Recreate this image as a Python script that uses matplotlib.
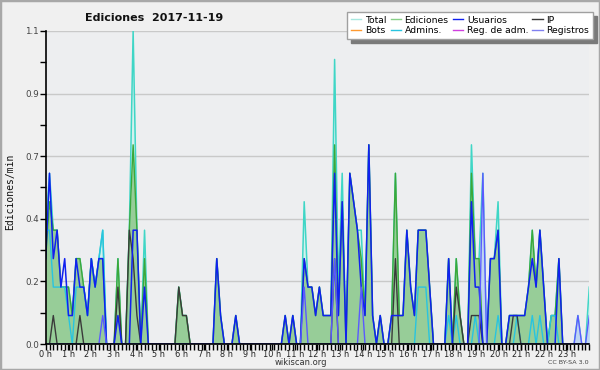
import matplotlib
matplotlib.use('Agg')
import matplotlib.pyplot as plt
import numpy as np
from matplotlib.ticker import FormatStrFormatter, FixedLocator
from matplotlib.lines import Line2D
from matplotlib.patches import Rectangle

# ---- data: 10-minute bins over the day (144 bins), edits per minute ----
hour_labels = [f"{h} h" for h in range(24)]
series_labels = ["Total", "Ediciones", "Usuarios", "IP",
                 "Bots", "Admins.", "Reg. de adm.", "Registros"]

ediciones = [
    .3, .5, .4, .4, .2, .2, .2, .1, .3, .3,
    .2, .1, .3, .2, .3, .3, 0, 0, 0, .3,
    0, 0, .4, .7, .4, 0, .3, 0, 0, 0,
    0, 0, 0, 0, 0, .2, .1, .1, 0, 0,
    0, 0, 0, 0, 0, .3, .1, 0, 0, 0,
    .1, 0, 0, 0, 0, 0, 0, 0, 0, 0,
    0, 0, 0, .1, 0, .1, 0, 0, .3, .2,
    .2, .1, .2, .1, .1, .1, .7, .1, .5, 0,
    .6, .5, .4, .3, .1, .7, .1, 0, .1, 0,
    0, .1, .6, .1, .1, .4, .2, .1, .4, .4,
    .4, .2, 0, 0, 0, 0, .3, 0, .3, .1,
    0, 0, .6, .3, .3, 0, 0, .3, .3, .4,
    0, 0, .1, .1, .1, .1, .1, .2, .4, .2,
    .4, .2, 0, .1, .1, .3, 0, 0, 0, 0,
    0, 0, 0, 0,
]

usuarios = [
    .3, .6, .3, .4, .2, .3, .1, .1, .3, .2,
    .2, .1, .3, .2, .3, .3, 0, 0, 0, .1,
    0, 0, 0, .4, .4, 0, .2, 0, 0, 0,
    0, 0, 0, 0, 0, 0, 0, 0, 0, 0,
    0, 0, 0, 0, 0, .3, .1, 0, 0, 0,
    .1, 0, 0, 0, 0, 0, 0, 0, 0, 0,
    0, 0, 0, .1, 0, .1, 0, 0, .3, .2,
    .2, .1, .2, .1, .1, .1, .6, .1, .5, 0,
    .6, .5, .4, .2, .1, .7, .1, 0, .1, 0,
    0, .1, .1, .1, .1, .4, .2, .1, .4, .4,
    .4, .2, 0, 0, 0, 0, .3, 0, 0, 0,
    0, 0, .5, .2, .2, 0, 0, .3, .3, .4,
    0, 0, .1, .1, .1, .1, .1, .2, .3, .2,
    .4, .2, 0, 0, 0, .3, 0, 0, 0, 0,
    0, 0, 0, 0,
]

ip = [
    0, 0, .1, 0, 0, 0, 0, 0, 0, .1,
    0, 0, 0, 0, 0, 0, 0, 0, 0, .2,
    0, 0, .4, .3, .1, 0, 0, 0, 0, 0,
    0, 0, 0, 0, 0, .2, .1, .1, 0, 0,
    0, 0, 0, 0, 0, 0, 0, 0, 0, 0,
    0, 0, 0, 0, 0, 0, 0, 0, 0, 0,
    0, 0, 0, 0, 0, 0, 0, 0, 0, 0,
    0, 0, 0, 0, 0, 0, .3, 0, 0, 0,
    0, 0, 0, 0, 0, 0, 0, 0, 0, 0,
    0, 0, .3, 0, 0, 0, 0, 0, 0, 0,
    0, 0, 0, 0, 0, 0, 0, 0, .2, .1,
    0, 0, .1, .1, .1, 0, 0, 0, 0, 0,
    0, 0, 0, .1, .1, 0, 0, 0, 0, 0,
    0, 0, 0, 0, 0, 0, 0, 0, 0, 0,
    0, 0, 0, 0,
]

total = [
    .4, .6, .4, .4, .2, .2, .2, .1, .3, .3,
    .2, .1, .3, .2, .3, .4, 0, 0, 0, .3,
    0, 0, .4, 1.1, .4, 0, .4, 0, 0, 0,
    0, 0, 0, 0, 0, .2, .1, .1, 0, 0,
    0, 0, 0, 0, 0, .3, .1, 0, 0, 0,
    .1, 0, 0, 0, 0, 0, 0, 0, 0, 0,
    0, 0, 0, .1, 0, .1, 0, 0, .5, .2,
    .2, .1, .2, .1, .1, .1, 1.0, .2, .6, 0,
    .6, .5, .4, .4, .1, .7, .1, 0, .1, 0,
    0, .1, .6, .1, .1, .4, .2, .1, .4, .4,
    .4, .2, 0, 0, 0, 0, .3, 0, .3, .1,
    0, 0, .7, .3, .3, .6, 0, .3, .3, .5,
    0, 0, .1, .1, .1, .1, .1, .2, .4, .2,
    .4, .2, 0, .1, .1, .3, 0, 0, 0, 0,
    .1, 0, 0, .2,
]

admins = [
    .4, .4, .2, .2, .2, .2, .1, 0, .2, .2,
    .2, .1, .3, .2, .3, .4, 0, 0, 0, 0,
    0, 0, 0, 0, 0, 0, 0, 0, 0, 0,
    0, 0, 0, 0, 0, 0, 0, 0, 0, 0,
    0, 0, 0, 0, 0, 0, 0, 0, 0, 0,
    0, 0, 0, 0, 0, 0, 0, 0, 0, 0,
    0, 0, 0, 0, 0, 0, 0, 0, 0, 0,
    0, 0, 0, 0, 0, 0, 0, 0, 0, 0,
    0, 0, 0, 0, 0, 0, 0, 0, 0, 0,
    0, 0, 0, 0, 0, 0, 0, 0, .2, .2,
    .2, 0, 0, 0, 0, 0, .1, 0, .1, 0,
    0, 0, 0, .1, 0, 0, 0, 0, 0, .1,
    0, 0, 0, 0, .1, 0, 0, 0, .1, 0,
    .1, 0, 0, .1, .1, 0, 0, 0, 0, 0,
    0, 0, 0, 0,
]

registros = [
    0, 0, 0, 0, 0, 0, 0, 0, 0, 0,
    0, 0, 0, 0, 0, .1, 0, 0, 0, 0,
    0, 0, 0, 0, 0, 0, 0, 0, 0, 0,
    0, 0, 0, 0, 0, 0, 0, 0, 0, 0,
    0, 0, 0, 0, 0, 0, 0, 0, 0, 0,
    0, 0, 0, 0, 0, 0, 0, 0, 0, 0,
    0, 0, 0, 0, 0, 0, 0, 0, .2, 0,
    0, 0, 0, 0, 0, 0, .3, 0, 0, 0,
    0, 0, 0, .2, 0, 0, 0, 0, 0, 0,
    0, 0, 0, 0, 0, 0, 0, 0, 0, 0,
    0, 0, 0, 0, 0, 0, 0, 0, 0, 0,
    0, 0, 0, 0, 0, .6, 0, 0, 0, 0,
    0, 0, 0, 0, 0, 0, 0, 0, 0, 0,
    0, 0, 0, 0, 0, 0, 0, 0, 0, 0,
    .1, 0, 0, .1,
]

# ---- colours ----
C_TOTAL = '#3fd6c6'
C_TOTAL_FILL = '#d2f1ee'
C_EDIT_LINE = '#3aa83a'
C_EDIT_FILL = '#94cb94'
C_USERS = '#1020f0'
C_IP = '#3a3a3a'
C_BOTS = '#ff9a30'
C_ADMINS = '#28c4e0'
C_REGADM = '#d040e0'
C_REG = '#5a5aff'

BG = '#f0f0f0'
W, H = 600, 370

fig = plt.figure(figsize=(W / 100, H / 100), dpi=100, facecolor=BG)
x0, x1, y0, y1 = 45.7, 589.3, 31, 344
ax = fig.add_axes([x0 / W, 1 - y1 / H, (x1 - x0) / W, (y1 - y0) / H])
ax.set_facecolor('#edeef0')

n = len(ediciones)
x = np.arange(n)

ax.fill_between(x, total, 0, color=C_TOTAL_FILL, lw=0, zorder=2)
ax.plot(x, total, color=C_TOTAL, lw=1.1, zorder=3)
ax.fill_between(x, registros, 0, color='#b9cff2', lw=0, zorder=3, alpha=0.8)
ax.fill_between(x, ediciones, 0, color=C_EDIT_FILL, lw=0, zorder=4, alpha=0.95)
ax.plot(x, ediciones, color=C_EDIT_LINE, lw=1.0, zorder=5)
ax.plot(x, admins, color=C_ADMINS, lw=1.0, zorder=6)
ax.plot(x, ip, color=C_IP, lw=1.0, zorder=7)
ax.plot(x, usuarios, color=C_USERS, lw=1.1, zorder=8)
ax.plot(x, registros, color=C_REG, lw=1.0, zorder=9)

ax.set_xlim(0, n - 1)
ax.set_ylim(0, 1.1)

# x ticks
hour_pos = [h * (n - 1) / 24 for h in range(24)]
ax.set_xticks(hour_pos)
ax.set_xticklabels(hour_labels)
ax.xaxis.set_minor_locator(FixedLocator(x))
ax.tick_params(axis='x', which='both', direction='out', length=4, width=1,
               color='black', labelsize=5.9, pad=0.5, labelcolor='#222222')

# y ticks
yt = np.linspace(0, 1.1, 6)
ax.set_yticks(yt)
ax.yaxis.set_major_formatter(FormatStrFormatter('%.1f'))
ax.yaxis.set_minor_locator(FixedLocator(yt[:-1] + 0.11))
ax.tick_params(axis='y', which='both', direction='out', length=4, width=1,
               color='black', labelsize=6.3, pad=1, labelcolor='#444444')
ax.yaxis.grid(True, color='#c9c9c9', lw=1)
ax.set_axisbelow(True)

for s in ('top', 'right'):
    ax.spines[s].set_visible(False)
for s in ('left', 'bottom'):
    ax.spines[s].set_color('black')
    ax.spines[s].set_linewidth(1.2)
    ax.spines[s].set_zorder(20)

# texts
fig.text(85 / W, 1 - 18 / H, 'Ediciones  2017-11-19', fontsize=8,
         fontweight='bold', ha='left', va='center', color='#111111')
fig.text(10 / W, 1 - 192 / H, 'Ediciones/min', rotation=90,
         family='DejaVu Sans Mono', fontsize=7, ha='center', va='center',
         color='#111111')
fig.text(301 / W, 1 - 362.5 / H, 'wikiscan.org', fontsize=6, ha='center',
         va='center', color='#333333')
fig.text(589 / W, 1 - 362.5 / H, 'CC BY-SA 3.0', fontsize=4.6, ha='right',
         va='center', color='#444444')

# legend (row-major order via column ordering)
colors = ['#a8e8e0', '#88d088', C_USERS, C_IP,
          C_BOTS, C_ADMINS, C_REGADM, '#8080f0']
handles = [Line2D([], [], color=c, lw=1) for c in colors]
order = [0, 4, 1, 5, 2, 6, 3, 7]
leg = fig.legend([handles[i] for i in order], [series_labels[i] for i in order],
                 loc='upper right', bbox_to_anchor=(593 / W, 1 - 12 / H),
                 ncol=4, fontsize=6.7, frameon=True, fancybox=False,
                 edgecolor='#a0a0a0', facecolor='white', framealpha=1,
                 shadow={'ox': 3, 'oy': -3, 'color': '#7a7a7a', 'alpha': 1},
                 handlelength=1.1, handletextpad=0.4, columnspacing=0.45,
                 labelspacing=0.15, borderpad=0.4, borderaxespad=0)
leg.get_frame().set_linewidth(1)

fig.add_artist(Rectangle((0, 0), 1, 1, transform=fig.transFigure, fill=False,
                         edgecolor='#a8a8a8', lw=2.5))

fig.savefig('out.png', dpi=100, facecolor=BG)
